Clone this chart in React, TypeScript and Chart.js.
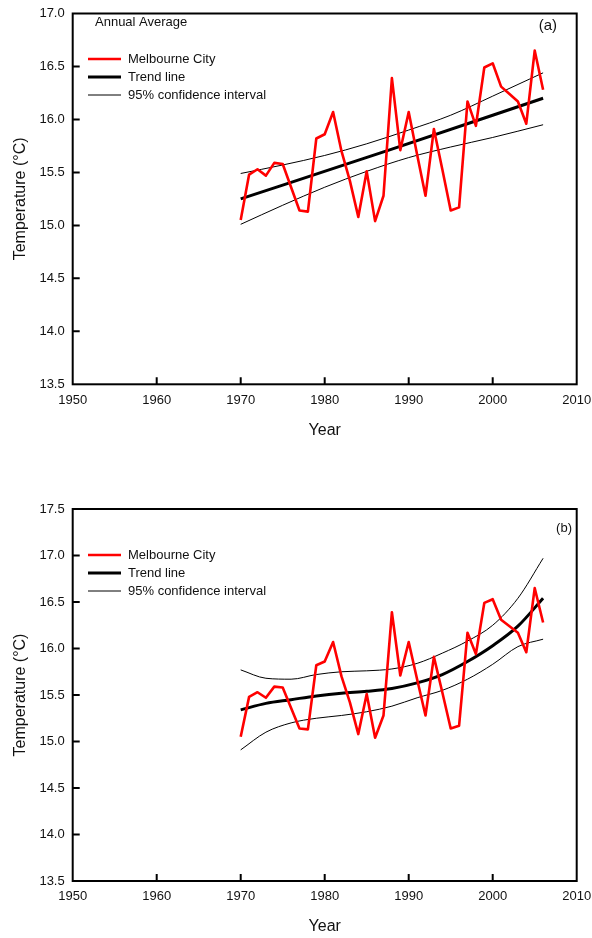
import React, { useEffect, useRef } from "react";
import { Chart, registerables } from "chart.js";

Chart.register(...registerables);

// ---------- data ----------
const years = [
  1970, 1971, 1972, 1973, 1974, 1975, 1976, 1977, 1978, 1979,
  1980, 1981, 1982, 1983, 1984, 1985, 1986, 1987, 1988, 1989,
  1990, 1991, 1992, 1993, 1994, 1995, 1996, 1997, 1998, 1999,
  2000, 2001, 2002, 2003, 2004, 2005, 2006,
];
const melbourneCity = [
  15.05, 15.48, 15.53, 15.47, 15.59, 15.58, 15.36, 15.14, 15.13, 15.82,
  15.86, 16.07, 15.70, 15.42, 15.08, 15.51, 15.04, 15.28, 16.39, 15.71,
  16.07, 15.67, 15.28, 15.91, 15.53, 15.14, 15.17, 16.17, 15.94, 16.49,
  16.53, 16.31, 16.24, 16.17, 15.96, 16.65, 16.28,
];

// panel (a): linear trend
const trendYearsA = [1970, 1988, 2006];
const trendA = [15.25, 15.72, 16.2];
const ciYearsA = [1970, 1975, 1980, 1985, 1990, 1995, 2000, 2006];
const ciUpperA = [15.49, 15.57, 15.66, 15.77, 15.9, 16.04, 16.22, 16.44];
const ciLowerA = [15.01, 15.19, 15.36, 15.51, 15.64, 15.74, 15.83, 15.95];

// panel (b): polynomial trend
const fitYearsB = [1970, 1973, 1976, 1979, 1982, 1985, 1988, 1991, 1994, 1997, 2000, 2003, 2006];
const trendB = [15.34, 15.41, 15.45, 15.49, 15.52, 15.54, 15.57, 15.63, 15.72, 15.86, 16.03, 16.24, 16.54];
const ciUpperB = [15.77, 15.68, 15.67, 15.72, 15.75, 15.76, 15.78, 15.84, 15.95, 16.08, 16.25, 16.54, 16.97];
const ciLowerB = [14.91, 15.1, 15.2, 15.25, 15.28, 15.32, 15.38, 15.47, 15.55, 15.67, 15.83, 16.02, 16.1];

const xTickValues = [1950, 1960, 1970, 1980, 1990, 2000, 2010];
const yTicksA = [13.5, 14.0, 14.5, 15.0, 15.5, 16.0, 16.5, 17.0];
const yTicksB = [13.5, 14.0, 14.5, 15.0, 15.5, 16.0, 16.5, 17.0, 17.5];
const seriesLabels = ["Melbourne City", "Trend line", "95% confidence interval"];
const yTitle = "Temperature (°C)";
const xTitle = "Year";

const FONT = "Arial, 'Liberation Sans', Helvetica, sans-serif";
const W = 592;
const H = 469;

function pts(xs: number[], ys: number[]) {
  return xs.map((x, i) => ({ x, y: ys[i] }));
}

const framePlugin = {
  id: "frame",
  afterDraw(chart: any, _args: any, opts: any) {
    const { ctx, chartArea: a, scales } = chart;
    ctx.save();
    ctx.strokeStyle = "#000";
    ctx.lineWidth = 2;
    ctx.strokeRect(a.left, a.top, a.right - a.left, a.bottom - a.top);
    ctx.beginPath();
    scales.x.ticks.forEach((t: any) => {
      const px = scales.x.getPixelForValue(t.value);
      if (px > a.left + 2 && px < a.right - 2) {
        ctx.moveTo(px, a.bottom);
        ctx.lineTo(px, a.bottom - 7);
      }
    });
    scales.y.ticks.forEach((t: any) => {
      const py = scales.y.getPixelForValue(t.value);
      if (py > a.top + 2 && py < a.bottom - 2) {
        ctx.moveTo(a.left, py);
        ctx.lineTo(a.left + 7, py);
      }
    });
    ctx.stroke();

    // legend
    const ds = chart.data.datasets;
    ctx.font = `13px ${FONT}`;
    ctx.textBaseline = "middle";
    ctx.textAlign = "left";
    for (let i = 0; i < 3; i++) {
      const y = opts.legendY + i * 18;
      ctx.beginPath();
      ctx.strokeStyle = ds[i].borderColor;
      ctx.lineWidth = ds[i].borderWidth;
      ctx.moveTo(opts.legendX, y);
      ctx.lineTo(opts.legendX + 33, y);
      ctx.stroke();
      ctx.fillStyle = "#111";
      ctx.fillText(ds[i].label, opts.legendX + 40, y);
    }

    // notes
    (opts.notes || []).forEach((n: any) => {
      ctx.font = `${n.size}px ${FONT}`;
      ctx.textAlign = n.align;
      ctx.fillStyle = "#111";
      ctx.fillText(n.text, n.x, n.y);
    });
    ctx.restore();
  },
};

function makeConfig(p: any) {
  return {
    type: "line",
    data: {
      datasets: [
        {
          label: seriesLabels[0],
          data: pts(years, melbourneCity),
          borderColor: "#ff0000",
          borderWidth: 2.6,
          borderJoinStyle: "round",
          pointRadius: 0,
          tension: 0,
        },
        {
          label: seriesLabels[1],
          data: pts(p.trendYears, p.trend),
          borderColor: "#000",
          borderWidth: 3,
          pointRadius: 0,
          cubicInterpolationMode: "monotone",
        },
        {
          label: seriesLabels[2],
          data: pts(p.ciYears, p.ciUpper),
          borderColor: "#000",
          borderWidth: 1,
          pointRadius: 0,
          cubicInterpolationMode: "monotone",
        },
        {
          label: "",
          data: pts(p.ciYears, p.ciLower),
          borderColor: "#000",
          borderWidth: 1,
          pointRadius: 0,
          cubicInterpolationMode: "monotone",
        },
      ],
    },
    options: {
      animation: false,
      responsive: false,
      devicePixelRatio: 1,
      layout: { padding: { left: 0, right: 15.3, top: p.padTop, bottom: 0 } },
      plugins: {
        legend: { display: false },
        tooltip: { enabled: false },
        frame: { legendX: 88, legendY: p.legendY, notes: p.notes },
      },
      scales: {
        x: {
          type: "linear",
          min: 1950,
          max: 2010,
          afterBuildTicks: (s: any) => {
            s.ticks = xTickValues.map((v) => ({ value: v }));
          },
          afterFit: (s: any) => {
            s.height = p.xAxisHeight;
            s.paddingLeft = 0;
            s.paddingRight = 0;
            s.paddingTop = 0;
            s.paddingBottom = 0;
          },
          grid: { display: false, drawTicks: false },
          border: { display: false },
          ticks: {
            padding: 8,
            autoSkip: false,
            maxRotation: 0,
            color: "#111",
            font: { family: FONT, size: 13 },
            callback: (v: any) => String(v),
          },
          title: {
            display: true,
            text: xTitle,
            color: "#111",
            font: { family: FONT, size: 16 },
            padding: { top: 0, bottom: p.xTitlePad },
          },
        },
        y: {
          type: "linear",
          min: 13.5,
          max: p.yMax,
          afterBuildTicks: (s: any) => {
            s.ticks = p.yTicks.map((v: number) => ({ value: v }));
          },
          afterFit: (s: any) => {
            s.width = 72.7;
            s.paddingLeft = 0;
            s.paddingRight = 0;
            s.paddingTop = 0;
            s.paddingBottom = 0;
          },
          grid: { display: false, drawTicks: false },
          border: { display: false },
          ticks: {
            padding: 8,
            autoSkip: false,
            color: "#111",
            font: { family: FONT, size: 13 },
            callback: (v: any) => Number(v).toFixed(1),
          },
          title: {
            display: true,
            text: yTitle,
            color: "#111",
            font: { family: FONT, size: 16 },
            padding: { top: 10.5, bottom: 0 },
          },
        },
      },
    },
    plugins: [framePlugin],
  };
}

export default function App() {
  const refA = useRef<HTMLCanvasElement>(null);
  const refB = useRef<HTMLCanvasElement>(null);

  useEffect(() => {
    const a = new Chart(
      refA.current as HTMLCanvasElement,
      makeConfig({
        trendYears: trendYearsA,
        trend: trendA,
        ciYears: ciYearsA,
        ciUpper: ciUpperA,
        ciLower: ciLowerA,
        padTop: 13.5,
        xAxisHeight: 84.7,
        xTitlePad: 28.4,
        yMax: 17.0,
        yTicks: yTicksA,
        legendY: 59,
        notes: [
          { text: "Annual Average", x: 95, y: 22, size: 13, align: "left" },
          { text: "(a)", x: 557, y: 26, size: 15, align: "right" },
        ],
      }) as any
    );
    const b = new Chart(
      refB.current as HTMLCanvasElement,
      makeConfig({
        trendYears: fitYearsB,
        trend: trendB,
        ciYears: fitYearsB,
        ciUpper: ciUpperB,
        ciLower: ciLowerB,
        padTop: 40,
        xAxisHeight: 57,
        xTitlePad: 2,
        yMax: 17.5,
        yTicks: yTicksB,
        legendY: 86,
        notes: [{ text: "(b)", x: 572, y: 59.5, size: 13, align: "right" }],
      }) as any
    );
    return () => {
      a.destroy();
      b.destroy();
    };
  }, []);

  return (
    <div style={{ position: "absolute", left: 0, top: 0, width: W, height: 2 * H, background: "#fff" }}>
      <canvas ref={refA} width={W} height={H} style={{ display: "block", width: W, height: H }} />
      <canvas ref={refB} width={W} height={H} style={{ display: "block", width: W, height: H }} />
    </div>
  );
}
